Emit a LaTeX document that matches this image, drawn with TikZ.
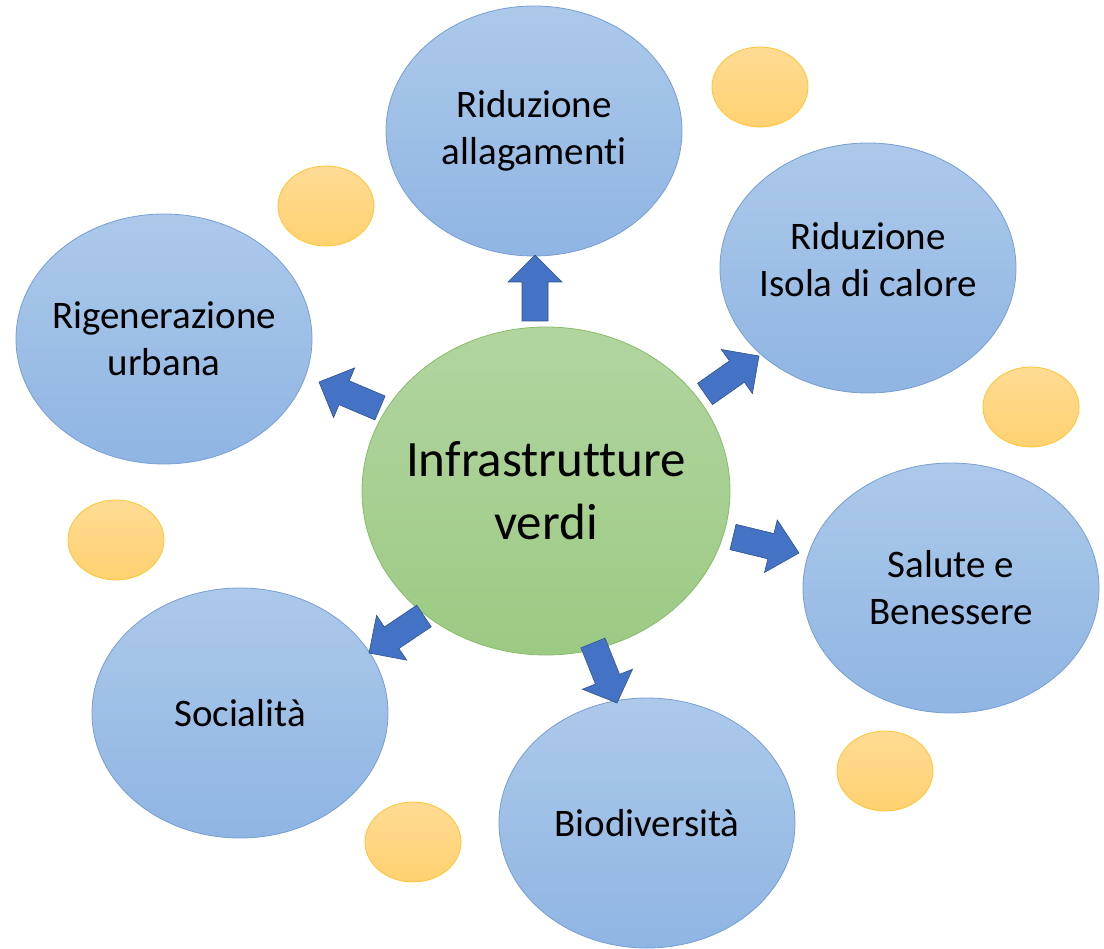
\documentclass[tikz,border=0pt]{standalone}
\usepackage{fontspec}
\setmainfont{Carlito}[Ligatures={NoCommon}]
\usetikzlibrary{shapes.geometric,calc}
\definecolor{bluetop}{RGB}{172,201,234}
\definecolor{bluebot}{RGB}{143,181,227}
\definecolor{blueline}{RGB}{120,158,212}
\definecolor{greentop}{RGB}{178,213,160}
\definecolor{greenbot}{RGB}{156,202,131}
\definecolor{greenline}{RGB}{135,188,105}
\definecolor{yeltop}{RGB}{255,219,148}
\definecolor{yelbot}{RGB}{255,209,112}
\definecolor{yelline}{RGB}{255,198,50}
\definecolor{arrowfill}{RGB}{68,114,196}
\definecolor{arrowline}{RGB}{47,82,143}
\tikzset{
  blob/.style={ellipse, draw=blueline, line width=0.8pt, top color=bluetop, bottom color=bluebot,
    minimum width=296pt, minimum height=250pt, inner sep=0pt},
  hub/.style={ellipse, draw=greenline, line width=0.8pt, top color=greentop, bottom color=greenbot,
    minimum width=368pt, minimum height=328pt, inner sep=0pt},
  dot/.style={ellipse, draw=yelline, line width=0.8pt, top color=yeltop, bottom color=yelbot,
    minimum width=96pt, minimum height=80pt, inner sep=0pt},
  lbl/.style={align=center, font=\fontsize{39}{47}\selectfont, text=black, inner sep=0pt},
  biglbl/.style={align=center, font=\fontsize{51}{63}\selectfont, text=black, inner sep=0pt},
  blockarrow/.style={fill=arrowfill, draw=arrowline, line width=0.6pt, line join=miter},
}
\newcommand{\blockarrow}[2]{%
  \coordinate (hb) at ($(#1)!39pt!(#2)$);
  \draw[blockarrow] ($(#1)!13pt!90:(#2)$) -- ($(hb)!13pt!90:(#2)$) -- ($(hb)!27pt!90:(#2)$)
    -- (#2) -- ($(hb)!27pt!-90:(#2)$) -- ($(hb)!13pt!-90:(#2)$) -- ($(#1)!13pt!-90:(#2)$) -- cycle;}
\begin{document}
\begin{tikzpicture}[x=1pt,y=-1pt]
\useasboundingbox (0,0) rectangle (1104,949);
% small yellow circles
\node[dot] (y1) at (760,87) {};
\node[dot] (y2) at (326,206) {};
\node[dot] (y3) at (1031,407) {};
\node[dot] (y4) at (116,540) {};
\node[dot] (y5) at (413,842) {};
\node[dot] (y6) at (885,771) {};
% outer ellipses
\node[blob] (rid) at (534,131) {};
\node[blob] (iso) at (868,268) {};
\node[blob] (rig) at (164,339) {};
\node[blob] (sal) at (951,588) {};
\node[blob] (soc) at (240,713) {};
\node[blob] (bio) at (647,823) {};
% hub
\node[hub] (hub) at (546,491) {};
% texts
\node[lbl] (rid-t) at (rid) {Riduzione\\allagamenti};
\node[lbl] (iso-t) at ($(iso)+(0,-8)$) {Riduzione\\Isola di calore};
\node[lbl] (rig-t) at (rig) {Rigenerazione\\urbana};
\node[lbl] (sal-t) at (sal) {Salute e\\Benessere};
\node[lbl] (soc-t) at (soc) {Socialità};
\node[lbl] (bio-t) at (bio) {Biodiversità};
\node[biglbl] (hub-t) at (hub) {Infrastrutture\\verdi};
% arrows
\coordinate (a1s) at (535,321); \coordinate (a1t) at (535,255);
\coordinate (a2s) at (380,408); \coordinate (a2t) at (319,382);
\coordinate (a3s) at (705,394); \coordinate (a3t) at (759,356);
\coordinate (a4s) at (733,537); \coordinate (a4t) at (799,553);
\coordinate (a5s) at (424,616); \coordinate (a5t) at (369,653);
\coordinate (a6s) at (593,643); \coordinate (a6t) at (617,703);
\blockarrow{a1s}{a1t}
\blockarrow{a2s}{a2t}
\blockarrow{a3s}{a3t}
\blockarrow{a4s}{a4t}
\blockarrow{a5s}{a5t}
\blockarrow{a6s}{a6t}
\end{tikzpicture}
\end{document}
